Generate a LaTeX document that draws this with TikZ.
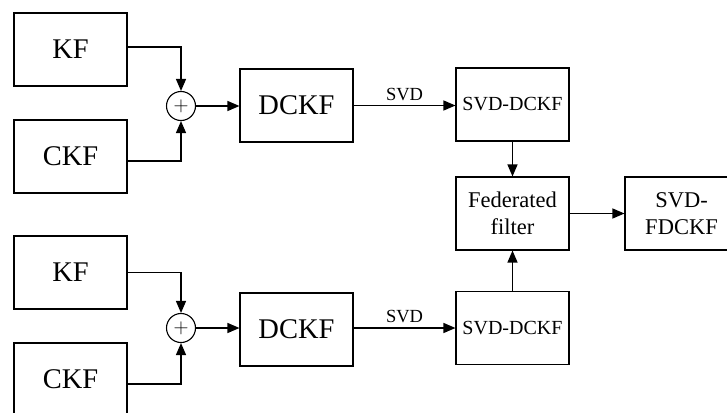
\documentclass[tikz,border=0pt]{standalone}
\usepackage{fontspec}
\setmainfont{Liberation Serif}
\usetikzlibrary{arrows.meta}
\begin{document}
\begin{tikzpicture}[x=1pt,y=-1pt,
  blk/.style={draw,line width=1.1pt,minimum width=113pt,minimum height=73pt,inner sep=0pt,align=center},
  sumc/.style={draw,circle,line width=1.1pt,minimum size=29pt,inner sep=0pt,font=\fontsize{20}{20}\selectfont},
  arr/.style={line width=1.3pt,-{Triangle[length=12pt,width=10pt]}},
  big/.style={font=\fontsize{28.5}{30}\selectfont},
  mid/.style={font=\fontsize{22.5}{27}\selectfont},
  sml/.style={font=\fontsize{20}{22}\selectfont},
  lbl/.style={font=\fontsize{18.5}{20}\selectfont}]
\path[use as bounding box,clip] (0,0) rectangle (727,412);
% top branch
\node[blk,big] (kf1) at (70.5,49.5) {KF};
\node[blk,big] (ckf1) at (70.5,156.5) {CKF};
\node[sumc] (s1) at (181,106) {$+$};
\node[blk,big] (d1) at (296.5,105.5) {DCKF};
\node[blk,sml] (sd1) at (512.5,104.5) {SVD-DCKF};
% middle
\node[blk,mid] (fed) at (512.5,213.5) {Federated\\filter};
\node[blk,mid] (out) at (681.5,213.5) {SVD-\\FDCKF};
% bottom branch
\node[blk,big] (kf2) at (70.5,272.5) {KF};
\node[blk,big] (ckf2) at (70.5,379.5) {CKF};
\node[sumc] (s2) at (181,328) {$+$};
\node[blk,big] (d2) at (296.5,329.5) {DCKF};
\node[blk,sml] (sd2) at (512.5,328) {SVD-DCKF};
% connectors
\draw[arr] ([yshift=2.5pt]kf1.east) -| (s1.north);
\draw[arr] ([yshift=-4.5pt]ckf1.east) -| (s1.south);
\draw[arr] (s1.east) -- (d1.west |- s1.east);
\draw[arr] (d1.east) -- node[lbl,above=1pt] {SVD} (sd1.west |- d1.east);
\draw[arr] (sd1.south) -- (fed.north);
\draw[arr] (fed.east) -- (out.west);
\draw[arr] (kf2.east) -| (s2.north);
\draw[arr] ([yshift=-4.5pt]ckf2.east) -| (s2.south);
\draw[arr] (s2.east) -- (d2.west |- s2.east);
\draw[arr] (d2.east |- sd2.west) -- node[lbl,above=1pt] {SVD} (sd2.west);
\draw[arr] (sd2.north) -- (fed.south);
\end{tikzpicture}
\end{document}
